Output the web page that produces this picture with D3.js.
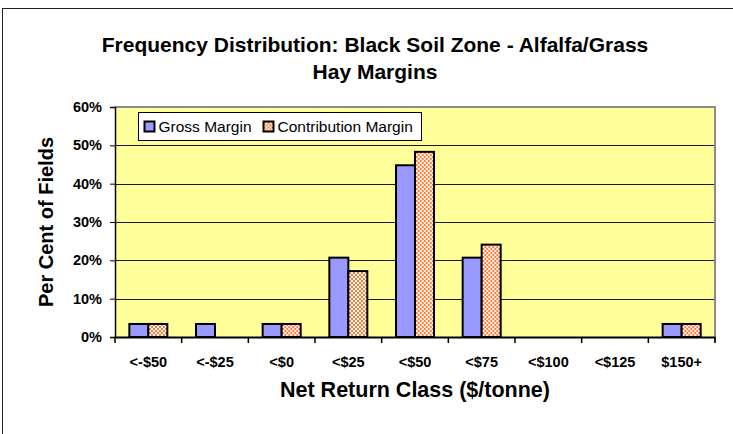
<!DOCTYPE html>
<html>
<head>
<meta charset="utf-8">
<script src="https://cdn.jsdelivr.net/npm/d3@7"></script>
<style>
  html, body { margin: 0; padding: 0; background: #fff; }
  svg { display: block; font-family: Arial, "Liberation Sans", sans-serif; }
</style>
</head>
<body>
<svg id="chart" width="733" height="434"></svg>
<script>
// Net return classes and share of fields (%) in each class
const categories = ["<-$50", "<-$25", "<$0", "<$25", "<$50", "<$75", "<$100", "<$125", "$150+"];
const grossMargin = [3.4, 3.4, 3.4, 20.7, 44.8, 20.7, 0, 0, 3.4];
const contributionMargin = [3.4, 0, 3.4, 17.2, 48.3, 24.1, 0, 0, 3.4];
const seriesNames = ["Gross Margin", "Contribution Margin"];
const yTicks = [0, 10, 20, 30, 40, 50, 60];

const titleLines = ["Frequency Distribution: Black Soil Zone - Alfalfa/Grass", "Hay Margins"];
const xTitle = "Net Return Class ($/tonne)";
const yTitle = "Per Cent of Fields";

const svg = d3.select("#chart");
const W = 733, H = 434;
const plot = { left: 115, right: 715, top: 107, bottom: 337 };

// hatched fill for the contribution-margin bars
const defs = svg.append("defs");
const pat = defs.append("pattern")
  .attr("id", "checker")
  .attr("patternUnits", "userSpaceOnUse")
  .attr("width", 4).attr("height", 4);
pat.append("rect").attr("width", 4).attr("height", 4).attr("fill", "#FF7A33");
pat.append("rect").attr("x", 0).attr("y", 0).attr("width", 2).attr("height", 2).attr("fill", "#FFFFFF");
pat.append("rect").attr("x", 2).attr("y", 2).attr("width", 2).attr("height", 2).attr("fill", "#FFFFFF");

const fills = { "Gross Margin": "#9999FF", "Contribution Margin": "url(#checker)" };

// outer chart frame
svg.append("rect")
  .attr("x", 2.5).attr("y", 8.5)
  .attr("width", W + 20).attr("height", H + 20)
  .attr("fill", "#fff").attr("stroke", "#222").attr("stroke-width", 1);

// scales
const x0 = d3.scaleBand().domain(categories).range([plot.left, plot.right]).paddingInner(0).paddingOuter(0);
const bw = x0.bandwidth();
const x1 = d3.scaleBand().domain(seriesNames).range([bw * 0.215, bw * 0.785]);
const y = d3.scaleLinear().domain([0, 60]).range([plot.bottom, plot.top]);

// plot background
svg.append("rect")
  .attr("x", plot.left).attr("y", plot.top)
  .attr("width", plot.right - plot.left).attr("height", plot.bottom - plot.top)
  .attr("fill", "#FFFF99");

// gridlines
svg.append("g").selectAll("line")
  .data(yTicks.filter(t => t > 0 && t < 60))
  .join("line")
  .attr("x1", plot.left).attr("x2", plot.right)
  .attr("y1", d => Math.round(y(d)) + 0.5).attr("y2", d => Math.round(y(d)) + 0.5)
  .attr("stroke", "#1a1a1a").attr("stroke-width", 1);

// plot frame top and right
svg.append("path")
  .attr("d", `M${plot.left},${plot.top} H${plot.right} V${plot.bottom + 5}`)
  .attr("fill", "none").attr("stroke", "#8c8c8c").attr("stroke-width", 2);

// bars
const rows = categories.map((c, i) => ({
  cat: c,
  values: [
    { key: "Gross Margin", v: grossMargin[i] },
    { key: "Contribution Margin", v: contributionMargin[i] }
  ]
}));

const groups = svg.append("g").selectAll("g")
  .data(rows).join("g")
  .attr("transform", d => `translate(${x0(d.cat)},0)`);

groups.selectAll("rect")
  .data(d => d.values.filter(s => s.v > 0))
  .join("rect")
  .attr("x", d => x1(d.key))
  .attr("width", x1.bandwidth())
  .attr("y", d => y(d.v))
  .attr("height", d => y(0) - y(d.v))
  .attr("fill", d => fills[d.key])
  .attr("stroke", "#000").attr("stroke-width", 2);

// y axis
const yAxis = svg.append("g")
  .attr("transform", `translate(${plot.left},0)`)
  .call(d3.axisLeft(y).tickValues(yTicks).tickFormat(d => d + "%").tickSize(5).tickPadding(8));
yAxis.select(".domain").attr("stroke", "#000").attr("stroke-width", 1.5);
yAxis.selectAll(".tick line").attr("stroke", "#000");
yAxis.selectAll("text")
  .attr("font-family", "Arial, 'Liberation Sans', sans-serif")
  .attr("font-size", 14.5).attr("font-weight", "bold").attr("fill", "#000");

// x axis
const xAxis = svg.append("g")
  .attr("transform", `translate(0,${plot.bottom})`)
  .call(d3.axisBottom(x0).tickSize(0).tickPadding(20));
xAxis.select(".domain").attr("stroke", "#000").attr("stroke-width", 2);
xAxis.selectAll("text")
  .attr("font-family", "Arial, 'Liberation Sans', sans-serif")
  .attr("font-size", 14.5).attr("font-weight", "bold").attr("fill", "#000");

// category boundary ticks
const bounds = categories.map(c => x0(c)).concat([plot.right]);
svg.append("g").selectAll("line")
  .data(bounds).join("line")
  .attr("x1", d => d).attr("x2", d => d)
  .attr("y1", plot.bottom).attr("y2", plot.bottom + 6)
  .attr("stroke", "#000").attr("stroke-width", 1.5);

// titles
svg.append("text")
  .attr("x", 375).attr("text-anchor", "middle")
  .attr("font-size", 21).attr("font-weight", "bold")
  .selectAll("tspan").data(titleLines).join("tspan")
  .attr("x", 375)
  .attr("y", (d, i) => 52 + i * 27)
  .text(d => d);

svg.append("text")
  .attr("x", (plot.left + plot.right) / 2).attr("y", 397)
  .attr("text-anchor", "middle")
  .attr("font-size", 21.5).attr("font-weight", "bold")
  .text(xTitle);

svg.append("text")
  .attr("transform", `translate(53,${(plot.top + plot.bottom) / 2}) rotate(-90)`)
  .attr("text-anchor", "middle")
  .attr("font-size", 20).attr("font-weight", "bold")
  .text(yTitle);

// legend
const legend = svg.append("g").attr("transform", "translate(138.5,112.5)");
legend.append("rect")
  .attr("width", 283).attr("height", 28)
  .attr("fill", "#fff").attr("stroke", "#000").attr("stroke-width", 1);
const legendX = [6, 125];
const items = legend.selectAll("g.item")
  .data(seriesNames).join("g")
  .attr("class", "item")
  .attr("transform", (d, i) => `translate(${legendX[i]},0)`);
items.append("rect")
  .attr("x", 0).attr("y", 9).attr("width", 10).attr("height", 10)
  .attr("fill", d => fills[d]).attr("stroke", "#000").attr("stroke-width", 2);
items.append("text")
  .attr("x", 14).attr("y", 19.5)
  .attr("font-size", 15.5)
  .text(d => d);
</script>
</body>
</html>
